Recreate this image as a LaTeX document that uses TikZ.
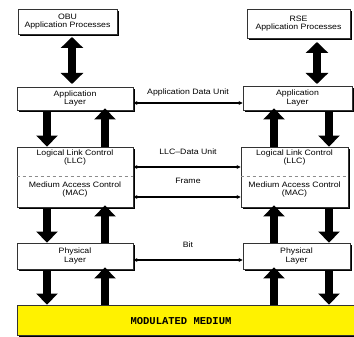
\documentclass[tikz,border=0pt]{standalone}
\usepackage{fontspec}
\setmainfont{Liberation Sans}[FakeStretch=1.12]
\newfontfamily\medfont{Liberation Mono}
\usetikzlibrary{arrows.meta,shadows}
\begin{document}
\begin{tikzpicture}[x=1pt,y=-1pt,
  layerbox/.style={draw=black!80, line width=0.8pt, fill=white, align=center,
    inner sep=0pt, font=\fontsize{7.8}{8.8}\selectfont,
    drop shadow={shadow xshift=2.2pt, shadow yshift=-2.2pt, opacity=1, fill=black}},
  fatarrow/.style={line width=8pt, -{Triangle[length=11pt,width=21pt]}},
  fatdouble/.style={line width=8pt, {Triangle[length=11pt,width=22pt]}-{Triangle[length=11pt,width=22pt]}},
  pdu/.style={line width=1.3pt, {Stealth[length=4pt,width=4pt]}-{Stealth[length=4pt,width=4pt]}},
  lbl/.style={font=\fontsize{7.8}{8.8}\selectfont, inner sep=1pt}]
\useasboundingbox (0,0) rectangle (354,337);

% boxes
\node[layerbox, minimum width=99pt, minimum height=25pt] (obu) at (67.5,21.5) {OBU\\Application Processes};
\node[layerbox, minimum width=103pt, minimum height=29pt] (rse) at (298.5,23.5) {RSE\\Application Processes};
\node[layerbox, minimum width=116pt, minimum height=23pt] (appL) at (75,98.5) {Application\\Layer};
\node[layerbox, minimum width=109pt, minimum height=24pt] (appR) at (297.5,98) {Application\\Layer};
\node[layerbox, minimum width=116pt, minimum height=60pt] (llcL) at (75,177) {};
\node[layerbox, minimum width=107pt, minimum height=60pt] (llcR) at (294.5,177) {};
\node[layerbox, minimum width=116pt, minimum height=26pt] (phyL) at (75,256) {Physical\\Layer};
\node[layerbox, minimum width=107pt, minimum height=26pt] (phyR) at (296.5,256) {Physical\\Layer};
\node[draw=black!80, line width=0.8pt, fill=yellow, minimum width=338pt, minimum height=30pt, inner sep=0pt,
  drop shadow={shadow xshift=2.2pt, shadow yshift=-2.2pt, opacity=1, fill=black}] (med) at (186,320) {};
\node[font=\medfont\fontsize{10.5}{12}\selectfont\bfseries] (medtxt) at (181,321) {MODULATED MEDIUM};

% LLC / MAC contents
\draw[black!45, dashed, line width=0.5pt] (llcL.west |- 0,176) -- (llcL.east |- 0,176);
\draw[black!45, dashed, line width=0.5pt] (llcR.west |- 0,176) -- (llcR.east |- 0,176);
\node[lbl, align=center] (llcLt) at (75,157.5) {Logical Link Control\\(LLC)};
\node[lbl, align=center] (macLt) at (75,189.5) {Medium Access Control\\(MAC)};
\node[lbl, align=center] (llcRt) at (294.5,157.5) {Logical Link Control\\(LLC)};
\node[lbl, align=center] (macRt) at (294.5,189.5) {Medium Access Control\\(MAC)};

% double fat arrows to application processes
\draw[fatdouble] (72,37) -- (72,84);
\draw[fatdouble] (317,42) -- (317,84);

% fat arrows left stack
\draw[fatarrow] (appL.south -| 47,0) ++(0,2) -- (llcL.north -| 47,0);
\draw[fatarrow] (llcL.north -| 105,0) -- ([yshift=2pt]appL.south -| 105,0);
\draw[fatarrow] (llcL.south -| 47,0) ++(0,2) -- (phyL.north -| 47,0);
\draw[fatarrow] (phyL.north -| 105,0) -- ([yshift=2pt]llcL.south -| 105,0);
\draw[fatarrow] (phyL.south -| 47,0) ++(0,2) -- (med.north -| 47,0);
\draw[fatarrow] (med.north -| 105,0) -- ([yshift=2pt]phyL.south -| 105,0);

% fat arrows right stack
\draw[fatarrow] (llcR.north -| 274,0) -- ([yshift=2pt]appR.south -| 274,0);
\draw[fatarrow] (appR.south -| 329,0) ++(0,2) -- (llcR.north -| 329,0);
\draw[fatarrow] (phyR.north -| 274,0) -- ([yshift=2pt]llcR.south -| 274,0);
\draw[fatarrow] (llcR.south -| 329,0) ++(0,2) -- (phyR.north -| 329,0);
\draw[fatarrow] (med.north -| 274,0) -- ([yshift=2pt]phyR.south -| 274,0);
\draw[fatarrow] (phyR.south -| 329,0) ++(0,2) -- (med.north -| 329,0);

% peer connections
\draw[pdu] (appL.east |- 0,103) -- (appR.west |- 0,103);
\node[lbl] (adu) at (188,92) {Application Data Unit};
\draw[pdu] (llcL.east |- 0,167) -- (llcR.west |- 0,167);
\node[lbl] (ldu) at (188,152) {LLC--Data Unit};
\draw[pdu] (llcL.east |- 0,197) -- (llcR.west |- 0,197);
\node[lbl] (frm) at (188,181) {Frame};
\draw[pdu] (phyL.east |- 0,260) -- (phyR.west |- 0,260);
\node[lbl] (bit) at (188,245) {Bit};
\end{tikzpicture}
\end{document}
